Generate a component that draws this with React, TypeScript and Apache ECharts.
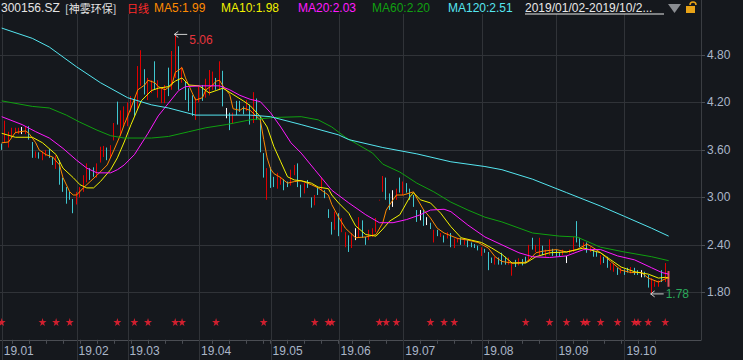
import React, { useEffect, useRef } from "react";
import * as echarts from "echarts";

// ---------- data ----------
const tradingDays: [string, number[]][] = [
  ["2019-01", [2, 3, 4, 7, 8, 9, 10, 11, 14, 15, 16, 17, 18, 21, 22, 23, 24, 25, 28, 29, 30, 31]],
  ["2019-02", [1, 11, 12, 13, 14, 15, 18, 19, 20, 21, 22, 25, 26, 27, 28]],
  ["2019-03", [1, 4, 5, 6, 7, 8, 11, 12, 13, 14, 15, 18, 19, 20, 21, 22, 25, 26, 27, 28, 29]],
  ["2019-04", [1, 2, 3, 4, 8, 9, 10, 11, 12, 15, 16, 17, 18, 19, 22, 23, 24, 25, 26, 29, 30]],
  ["2019-05", [6, 7, 8, 9, 10, 13, 14, 15, 16, 17, 20, 21, 22, 23, 24, 27, 28, 29, 30, 31]],
  ["2019-06", [3, 4, 5, 6, 10, 11, 12, 13, 14, 17, 18, 19, 20, 21, 24, 25, 26, 27, 28]],
  ["2019-07", [1, 2, 3, 4, 5, 8, 9, 10, 11, 12, 15, 16, 17, 18, 19, 22, 23, 24, 25, 26, 29, 30, 31]],
  ["2019-08", [1, 2, 5, 6, 7, 8, 9, 12, 13, 14, 15, 16, 19, 20, 21, 22, 23, 26, 27, 28, 29, 30]],
  ["2019-09", [2, 3, 4, 5, 6, 9, 10, 11, 12, 16, 17, 18, 19, 20, 23, 24, 25, 26, 27, 30]],
  ["2019-10", [8, 9, 10, 11, 14, 15, 16, 17, 18, 21, 22, 23, 24, 25]],
];
const emptySlots = 9;

// [open, close, low, high]
const janK = [
  [3.67, 3.62, 3.6, 3.68], [3.72, 3.9, 3.69, 3.97], [3.66, 3.8, 3.63, 3.83], [3.77, 3.85, 3.75, 3.88],
  [3.82, 3.86, 3.81, 3.88], [3.84, 3.86, 3.8, 3.88], [3.85, 3.85, 3.8, 3.89], [3.82, 3.88, 3.8, 3.89],
  [3.88, 3.76, 3.73, 3.9], [3.7, 3.55, 3.5, 3.7], [3.52, 3.57, 3.5, 3.58], [3.56, 3.52, 3.49, 3.57],
  [3.5, 3.56, 3.47, 3.58], [3.53, 3.57, 3.52, 3.6], [3.6, 3.52, 3.5, 3.61], [3.5, 3.43, 3.41, 3.51],
  [3.4, 3.47, 3.36, 3.53], [3.45, 3.2, 3.16, 3.47], [3.22, 3.1, 3.07, 3.25], [3.12, 2.97, 2.92, 3.13],
  [3.05, 3.0, 2.97, 3.07], [2.97, 2.85, 2.8, 2.98],
];
const febK = [
  [2.93, 3.03, 2.91, 3.07], [3.03, 3.1, 3.0, 3.13], [3.1, 3.24, 3.07, 3.28], [3.22, 3.38, 3.19, 3.43],
  [3.36, 3.25, 3.22, 3.37], [3.33, 3.27, 3.26, 3.38], [3.27, 3.37, 3.25, 3.43], [3.45, 3.6, 3.44, 3.64],
  [3.55, 3.62, 3.51, 3.65], [3.62, 3.52, 3.47, 3.63], [3.52, 3.63, 3.5, 3.66], [3.73, 3.93, 3.72, 3.94],
  [4.15, 3.95, 3.92, 4.21], [3.82, 4.05, 3.78, 4.1], [3.95, 4.05, 3.9, 4.15],
];
const marK = [
  [3.98, 4.12, 3.9, 4.2], [4.1, 4.24, 4.08, 4.28], [4.22, 4.08, 4.03, 4.24], [4.15, 4.6, 4.12, 4.66],
  [4.5, 4.7, 4.41, 4.86], [4.6, 4.45, 4.3, 4.62], [4.35, 4.48, 4.23, 4.51], [4.38, 4.45, 4.32, 4.48],
  [4.62, 4.4, 4.36, 4.72], [4.3, 4.42, 4.26, 4.48], [4.22, 4.32, 4.19, 4.38], [4.25, 4.38, 4.19, 4.42],
  [4.55, 4.32, 4.28, 4.64], [4.4, 4.78, 4.36, 4.85], [4.58, 4.8, 4.51, 5.06], [4.85, 4.5, 4.36, 4.91],
  [4.48, 4.62, 4.45, 4.65], [4.45, 4.28, 4.23, 4.47], [4.3, 4.12, 4.09, 4.38], [4.25, 4.08, 4.03, 4.29],
  [4.02, 4.2, 3.98, 4.26],
];
const aprK = [
  [4.22, 4.35, 4.2, 4.4], [4.35, 4.3, 4.22, 4.42], [4.3, 4.45, 4.26, 4.5], [4.35, 4.55, 4.29, 4.61],
  [4.4, 4.5, 4.36, 4.59], [4.5, 4.4, 4.36, 4.51], [4.4, 4.55, 4.36, 4.72], [4.5, 4.2, 4.15, 4.6],
  [4.06, 4.06, 4.0, 4.13], [4.05, 3.95, 3.85, 4.07], [3.95, 4.05, 3.93, 4.07], [4.15, 4.06, 4.04, 4.22],
  [4.15, 4.1, 4.08, 4.22], [4.12, 4.08, 4.05, 4.15], [4.1, 4.18, 4.09, 4.23], [4.15, 4.05, 3.92, 4.17],
  [4.0, 4.28, 3.94, 4.33], [4.22, 4.0, 3.98, 4.25], [3.98, 3.62, 3.57, 4.02], [3.55, 3.28, 3.25, 3.56],
  [3.1, 3.3, 2.97, 3.37],
];
const mayK = [
  [3.35, 3.18, 3.12, 3.38], [3.25, 3.17, 3.13, 3.26], [3.15, 3.28, 3.11, 3.31], [3.18, 3.25, 3.16, 3.26],
  [3.22, 3.12, 3.09, 3.23], [3.18, 3.14, 3.13, 3.2], [3.16, 3.3, 3.15, 3.35], [3.3, 3.38, 3.28, 3.41],
  [3.4, 3.18, 3.13, 3.43], [3.15, 3.05, 3.0, 3.16], [3.06, 3.15, 3.05, 3.18], [3.2, 3.15, 3.12, 3.22],
  [3.0, 2.9, 2.87, 3.0], [2.93, 3.0, 2.9, 3.03], [3.1, 3.05, 3.03, 3.12], [3.1, 3.2, 3.09, 3.25],
  [3.08, 3.0, 2.99, 3.09], [2.85, 2.76, 2.74, 2.85], [2.69, 2.55, 2.53, 2.69], [2.6, 2.75, 2.59, 2.82],
];
const junK = [
  [2.78, 2.55, 2.51, 2.8], [2.58, 2.7, 2.56, 2.74], [2.4, 2.5, 2.37, 2.56], [2.5, 2.35, 2.31, 2.52],
  [2.38, 2.48, 2.36, 2.55], [2.5, 2.5, 2.46, 2.61], [2.52, 2.62, 2.49, 2.75], [2.65, 2.52, 2.49, 2.71],
  [2.5, 2.43, 2.4, 2.5], [2.47, 2.55, 2.46, 2.59], [2.5, 2.56, 2.5, 2.61], [2.57, 2.7, 2.56, 2.74],
  [2.96, 2.97, 2.96, 2.97], [3.1, 3.26, 3.07, 3.27], [3.25, 3.0, 2.97, 3.25], [3.02, 2.9, 2.84, 3.05],
  [2.98, 2.98, 2.88, 3.09], [2.98, 3.08, 2.97, 3.11], [3.2, 3.08, 3.06, 3.25],
];
const julK = [
  [3.05, 3.15, 3.03, 3.2], [3.17, 3.08, 3.06, 3.18], [3.08, 3.0, 2.97, 3.11], [2.98, 2.9, 2.88, 3.03],
  [2.84, 2.72, 2.69, 2.84], [2.75, 2.75, 2.71, 2.84], [2.78, 2.66, 2.64, 2.84], [2.7, 2.7, 2.65, 2.75],
  [2.68, 2.6, 2.6, 2.68], [2.45, 2.55, 2.43, 2.59], [2.57, 2.52, 2.51, 2.59], [2.5, 2.54, 2.5, 2.55],
  [2.52, 2.46, 2.43, 2.52], [2.48, 2.53, 2.48, 2.56], [2.52, 2.42, 2.37, 2.55], [2.4, 2.47, 2.36, 2.48],
  [2.44, 2.48, 2.43, 2.49], [2.48, 2.42, 2.4, 2.49], [2.41, 2.45, 2.4, 2.46], [2.45, 2.4, 2.37, 2.46],
  [2.42, 2.38, 2.37, 2.43], [2.4, 2.36, 2.36, 2.41], [2.38, 2.34, 2.33, 2.39],
];
const augK = [
  [2.28, 2.35, 2.26, 2.37], [2.33, 2.3, 2.3, 2.35], [2.3, 2.12, 2.08, 2.31], [2.22, 2.17, 2.17, 2.24],
  [2.16, 2.22, 2.15, 2.25], [2.22, 2.18, 2.15, 2.24], [2.28, 2.17, 2.15, 2.3], [2.2, 2.16, 2.15, 2.25],
  [2.16, 2.19, 2.15, 2.24], [2.05, 2.15, 2.01, 2.17], [2.2, 2.14, 2.12, 2.21], [2.15, 2.2, 2.14, 2.23],
  [2.2, 2.16, 2.14, 2.22], [2.22, 2.18, 2.17, 2.25], [2.2, 2.33, 2.19, 2.4], [2.42, 2.35, 2.34, 2.49],
  [2.33, 2.37, 2.31, 2.4], [2.3, 2.4, 2.27, 2.49], [2.38, 2.3, 2.27, 2.39], [2.28, 2.32, 2.25, 2.34],
  [2.3, 2.36, 2.27, 2.47], [2.35, 2.3, 2.26, 2.35],
];
const sepK = [
  [2.33, 2.28, 2.25, 2.34], [2.31, 2.27, 2.25, 2.31], [2.28, 2.32, 2.27, 2.34], [2.22, 2.22, 2.17, 2.26],
  [2.3, 2.33, 2.29, 2.34], [2.32, 2.42, 2.31, 2.5], [2.48, 2.44, 2.43, 2.7], [2.46, 2.4, 2.37, 2.49],
  [2.37, 2.41, 2.34, 2.43], [2.42, 2.34, 2.3, 2.43], [2.33, 2.36, 2.31, 2.37], [2.34, 2.28, 2.25, 2.35],
  [2.3, 2.26, 2.25, 2.31], [2.18, 2.25, 2.15, 2.27], [2.24, 2.18, 2.17, 2.25], [2.22, 2.14, 2.11, 2.25],
  [2.1, 2.15, 2.08, 2.17], [2.09, 2.14, 2.06, 2.17], [2.11, 2.05, 2.02, 2.11], [2.05, 2.09, 2.04, 2.11],
];
const octK = [
  [2.09, 2.04, 2.02, 2.09], [2.08, 2.06, 2.05, 2.11], [2.05, 2.09, 2.04, 2.12], [2.09, 2.04, 2.02, 2.11],
  [2.06, 2.03, 2.02, 2.08], [2.04, 2.04, 1.99, 2.08], [2.04, 2.0, 1.99, 2.06], [2.01, 1.9, 1.86, 2.02],
  [1.86, 1.92, 1.78, 1.98], [1.88, 1.92, 1.87, 1.94], [1.89, 1.93, 1.87, 1.95], [2.05, 1.95, 1.93, 2.08],
  [1.95, 2.05, 1.93, 2.17], [1.88, 2.05, 1.87, 2.07],
];

// moving averages: [day index, value]
const ma5 = [
  [0, 3.69], [2, 3.7], [4, 3.82], [7, 3.84], [8, 3.81], [10, 3.69], [11, 3.6], [13, 3.54], [15, 3.51], [17, 3.41],
  [18, 3.25], [20, 3.07], [21, 3.03], [22, 3.03], [24, 3.12], [26, 3.2], [28, 3.28], [31, 3.41], [33, 3.6], [35, 3.8],
  [36, 3.92], [38, 4.13], [40, 4.36], [42, 4.42], [43, 4.48], [45, 4.45], [46, 4.4], [48, 4.36], [50, 4.42], [51, 4.58],
  [53, 4.64], [54, 4.51], [56, 4.32], [57, 4.23], [59, 4.26], [60, 4.36], [62, 4.42], [63, 4.47], [64, 4.48], [65, 4.41],
  [67, 4.3], [68, 4.12], [70, 4.1], [71, 4.13], [73, 4.1], [76, 3.98], [77, 3.73], [78, 3.5], [79, 3.36], [80, 3.3],
  [82, 3.25], [84, 3.18], [86, 3.2], [88, 3.21], [91, 3.16], [93, 3.12], [96, 3.03], [97, 2.91], [99, 2.75], [101, 2.61],
  [104, 2.49], [107, 2.5], [110, 2.53], [112, 2.68], [113, 2.84], [115, 2.97], [116, 3.03], [118, 3.03], [121, 3.07], [122, 2.99],
  [124, 2.84], [126, 2.74], [128, 2.61], [130, 2.55], [134, 2.48], [137, 2.46], [140, 2.43], [143, 2.36], [145, 2.25], [147, 2.19],
  [150, 2.17], [154, 2.18], [155, 2.21], [157, 2.3], [159, 2.32], [163, 2.34], [166, 2.31], [169, 2.34], [172, 2.41], [174, 2.36],
  [176, 2.3], [179, 2.19], [182, 2.08], [185, 2.05], [188, 2.05], [190, 1.98], [193, 1.93], [195, 1.97], [196, 1.99],
];
const ma10 = [
  [0, 3.81], [4, 3.76], [9, 3.76], [12, 3.69], [16, 3.54], [18, 3.37], [21, 3.25], [23, 3.16], [25, 3.12], [27, 3.12],
  [29, 3.2], [32, 3.35], [34, 3.5], [35, 3.6], [36, 3.7], [38, 3.92], [41, 4.22], [44, 4.35], [46, 4.38], [49, 4.4],
  [51, 4.47], [53, 4.51], [55, 4.42], [58, 4.41], [61, 4.32], [63, 4.35], [65, 4.38], [68, 4.3], [71, 4.22], [73, 4.16],
  [76, 4.02], [78, 3.89], [80, 3.64], [82, 3.45], [84, 3.26], [86, 3.22], [88, 3.21], [91, 3.18], [93, 3.13], [96, 3.11],
  [97, 3.03], [99, 2.93], [102, 2.8], [104, 2.64], [107, 2.53], [110, 2.51], [112, 2.6], [114, 2.7], [117, 2.78], [120, 3.01],
  [121, 3.06], [123, 2.97], [126, 2.93], [129, 2.8], [132, 2.63], [135, 2.49], [138, 2.46], [141, 2.43], [144, 2.36], [147, 2.28],
  [150, 2.17], [154, 2.17], [157, 2.25], [161, 2.3], [166, 2.31], [171, 2.36], [176, 2.3], [179, 2.21], [182, 2.12], [186, 2.06],
  [190, 2.03], [193, 1.98], [195, 1.99], [196, 1.98],
];
const ma20 = [
  [0, 4.02], [6, 3.92], [10, 3.83], [14, 3.75], [18, 3.62], [22, 3.47], [25, 3.37], [28, 3.31], [32, 3.31], [34, 3.35],
  [36, 3.41], [39, 3.54], [43, 3.81], [46, 4.03], [49, 4.19], [52, 4.35], [54, 4.4], [59, 4.41], [64, 4.41], [67, 4.36],
  [70, 4.29], [73, 4.24], [76, 4.21], [79, 4.07], [82, 3.89], [85, 3.69], [88, 3.56], [92, 3.35], [97, 3.09], [102, 2.93],
  [107, 2.78], [111, 2.68], [115, 2.68], [119, 2.72], [123, 2.78], [126, 2.84], [130, 2.85], [132, 2.82], [137, 2.65], [142, 2.5],
  [147, 2.4], [152, 2.3], [156, 2.25], [161, 2.24], [166, 2.26], [171, 2.34], [176, 2.34], [181, 2.26], [186, 2.21], [191, 2.11],
  [194, 2.05], [196, 2.03],
];
const ma60 = [
  [0, 4.22], [9, 4.15], [14, 4.13], [19, 4.04], [23, 3.95], [28, 3.85], [32, 3.78], [36, 3.75], [44, 3.75], [49, 3.77],
  [55, 3.83], [60, 3.88], [66, 3.92], [73, 3.98], [80, 4.01], [88, 4.02], [93, 3.98], [97, 3.89], [101, 3.76], [105, 3.66],
  [109, 3.56], [112, 3.42], [117, 3.32], [122, 3.18], [127, 3.07], [132, 2.94], [137, 2.84], [142, 2.75], [147, 2.69], [156, 2.55],
  [164, 2.51], [169, 2.5], [176, 2.37], [183, 2.31], [191, 2.25], [196, 2.2],
];
const ma120 = [
  [0, 5.14], [9, 5.01], [14, 4.9], [22, 4.65], [29, 4.45], [37, 4.26], [44, 4.17], [49, 4.13], [57, 4.04], [66, 4.04],
  [73, 4.04], [79, 4.02], [88, 3.92], [99, 3.79], [102, 3.73], [112, 3.63], [122, 3.55], [132, 3.45], [142, 3.39], [147, 3.35],
  [156, 3.23], [166, 3.06], [176, 2.89], [183, 2.76], [191, 2.61], [196, 2.51],
];
const signalDays = [0, 12, 16, 20, 34, 39, 43, 51, 53, 63, 77, 92, 96, 97, 111, 113, 116, 126, 130, 133, 154, 161, 166, 171, 172, 176, 181, 186, 187, 190, 195];
const yTicks = { min: 1.2, max: 5.4, step: 0.6 };

// ---------- derived ----------
const dates: string[] = [];
const monthStarts: number[] = [];
const mondays: number[] = [];
tradingDays.forEach(([ym, days]) => {
  monthStarts.push(dates.length);
  days.forEach((d) => {
    const [y, m] = ym.split("-").map(Number);
    if (new Date(y, m - 1, d).getDay() === 1) mondays.push(dates.length);
    dates.push(`${ym}-${String(d).padStart(2, "0")}`);
  });
});
const categories = [...dates, ...Array.from({ length: emptySlots }, (_, i) => " ".repeat(i + 1))];
const candles = [...janK, ...febK, ...marK, ...aprK, ...mayK, ...junK, ...julK, ...augK, ...sepK, ...octK];

const BG = "#15181d";
const GRIDC = "#303338";
const AXC = "#aab6c8";
const FONT = '"Liberation Sans", Arial, "Noto Sans CJK SC", sans-serif';
const CJK = '"Noto Sans CJK SC", sans-serif';
const maDefs = [
  { name: "MA5", data: ma5, color: "#ff8a00" },
  { name: "MA10", data: ma10, color: "#f2f200" },
  { name: "MA20", data: ma20, color: "#ff1aff" },
  { name: "MA60", data: ma60, color: "#10a010" },
  { name: "MA120", data: ma120, color: "#55e6f0" },
];

export default function App() {
  const ref = useRef<HTMLDivElement>(null);
  useEffect(() => {
    const chart = echarts.init(ref.current!, null, { renderer: "svg" });
    const monthSet = new Set(monthStarts);
    const mondaySet = new Set(mondays);
    const lastIdx = candles.length - 1;
    const kData = candles.map((c, i) =>
      i === lastIdx
        ? { value: c, itemStyle: { color: "#e0505c", borderColor: "#e0505c", borderWidth: 2 } }
        : c
    );
    chart.setOption({
      animation: false,
      backgroundColor: BG,
      textStyle: { fontFamily: FONT },
      grid: [
        { left: 0, right: 42, top: 7.5, bottom: 20.2, outerBoundsMode: "none" },
        { left: 0, right: 42, top: 315, height: 14, outerBoundsMode: "none" },
      ],
      xAxis: [
        {
          type: "category",
          data: categories,
          gridIndex: 0,
          boundaryGap: true,
          axisLine: { lineStyle: { color: "#4a4d53" } },
          axisTick: {
            show: true,
            alignWithLabel: true,
            interval: (i: number) => mondaySet.has(i),
            length: 4,
            lineStyle: { color: "#4a4d53" },
          },
          axisLabel: {
            interval: (i: number) => monthSet.has(i),
            formatter: (v: string) => (v.trim() ? `${v.slice(2, 4)}.${v.slice(5, 7)}` : ""),
            align: "left",
            color: AXC,
            fontSize: 12,
            margin: 5,
            padding: [0, 0, 0, 2],
          },
          splitLine: { show: false },
        },
        {
          type: "category",
          data: categories,
          gridIndex: 1,
          boundaryGap: true,
          show: false,
        },
      ],
      yAxis: [
        {
          type: "value",
          position: "right",
          gridIndex: 0,
          min: yTicks.min,
          max: yTicks.max,
          interval: yTicks.step,
          axisLine: { show: true, lineStyle: { color: "#3a3d42" } },
          axisTick: { show: true, length: 4, lineStyle: { color: "#4a4d53" } },
          axisLabel: {
            color: AXC,
            fontSize: 12,
            margin: 6,
            showMinLabel: false,
            showMaxLabel: false,
            formatter: (v: number) => v.toFixed(2),
          },
          splitLine: { show: true, lineStyle: { color: GRIDC, width: 1 } },
        },
        { type: "value", gridIndex: 1, min: 0, max: 2, show: false },
      ],
      series: [
        {
          type: "candlestick",
          xAxisIndex: 0,
          yAxisIndex: 0,
          data: kData,
          barWidth: 1,
          z: 2,
          itemStyle: {
            color: "#e00000",
            color0: "#3fc6cf",
            borderColor: "#e00000",
            borderColor0: "#3fc6cf",
            borderColorDoji: "#ffffff",
            borderWidth: 1,
          },
        },
        ...maDefs.map((m) => ({
          type: "line",
          name: m.name,
          xAxisIndex: 0,
          yAxisIndex: 0,
          data: m.data,
          symbol: "none",
          showSymbol: false,
          z: 3,
          lineStyle: { color: m.color, width: 1 },
        })),
        {
          type: "scatter",
          xAxisIndex: 1,
          yAxisIndex: 1,
          data: signalDays.map((i) => [i, 1]),
          symbol: "path://M50,0 L61,35 L98,35 L68,57 L79,91 L50,70 L21,91 L32,57 L2,35 L39,35 Z",
          symbolSize: 8,
          itemStyle: { color: "#ff2233" },
        },
      ],
    });

    // overlay elements positioned through the chart's own scales
    const px = (i: number, v: number) => chart.convertToPixel({ gridIndex: 0 }, [i, v]) as number[];
    const g: any[] = [];
    g.push({ type: "rect", shape: { x: 0, y: 0, width: 743, height: 14 }, style: { fill: BG }, z: 100 });
    g.push({ type: "line", shape: { x1: 701.5, y1: 0, x2: 701.5, y2: 14 }, style: { stroke: "#3a3d42", lineWidth: 1 }, z: 101 });
    monthStarts.forEach((i) => {
      const x = Math.round(px(i, 3)[0]) + 0.5;
      g.push({ type: "line", shape: { x1: x, y1: 14, x2: x, y2: 360 }, style: { stroke: GRIDC, lineWidth: 1 }, z: 1, silent: true });
    });
    let hi = 0, lo = 0;
    candles.forEach((c, i) => {
      if (c[3] > candles[hi][3]) hi = i;
      if (c[2] < candles[lo][2]) lo = i;
    });
    const addArrow = (i: number, v: number, color: string, dy: number) => {
      const [x0, y0] = px(i, v);
      const tx = x0 - 1;
      g.push({ type: "polyline", shape: { points: [[tx + 4, y0 - 3], [tx, y0], [tx + 4, y0 + 3]] }, style: { stroke: "#cfcfcf", lineWidth: 1, fill: null }, z: 20 });
      g.push({ type: "line", shape: { x1: tx, y1: y0, x2: tx + 13, y2: y0 }, style: { stroke: "#cfcfcf", lineWidth: 1 }, z: 20 });
      g.push({ type: "text", x: tx + 15, y: y0 + dy, style: { text: v.toFixed(2), fill: color, font: `12px ${FONT}`, verticalAlign: "middle" }, z: 20 });
    };
    addArrow(hi, candles[hi][3], "#e8343c", 6);
    addArrow(lo, candles[lo][2], "#2aa85a", 0);
    const lastVal = (d: number[][]) => d[d.length - 1][1].toFixed(2);
    const header = [
      { text: "300156.SZ", x: 1, fill: "#e4e4e4", font: `12px ${FONT}` },
      { text: "[神雾环保]", x: 65, fill: "#e4e4e4", font: `11px ${CJK}` },
      { text: "日线", x: 127, fill: "#ff2a2a", font: `11px ${CJK}` },
      ...maDefs.map((m, k) => ({
        text: `${m.name}:${lastVal(m.data)}`,
        x: [154, 221, 298, 372, 448][k],
        fill: m.color,
        font: `12px ${FONT}`,
      })),
      { text: "2019/01/02-2019/10/2...", x: 525, fill: "#e8e8e8", font: `12px ${FONT}` },
    ];
    header.forEach((h) => {
      g.push({ type: "text", x: h.x, y: 8, style: { text: h.text, fill: h.fill, font: h.font, verticalAlign: "middle" }, z: 102 });
    });
    g.push({ type: "line", shape: { x1: 525, y1: 14, x2: 664, y2: 14 }, style: { stroke: "#e8e8e8", lineWidth: 1 }, z: 102 });
    g.push({ type: "polygon", shape: { points: [[668, 4], [681, 4], [674.5, 13]] }, style: { fill: "#8a8d92" }, z: 102 });
    g.push({ type: "rect", shape: { x: 686, y: 6, width: 9, height: 7 }, style: { fill: "#e8a317" }, z: 102 });
    g.push({ type: "arc", shape: { cx: 693, cy: 5, r: 3, startAngle: Math.PI, endAngle: 2 * Math.PI }, style: { stroke: "#e8a317", lineWidth: 1.5, fill: null }, z: 102 });
    chart.setOption({ graphic: g });
    return () => chart.dispose();
  }, []);
  return <div ref={ref} style={{ position: "fixed", left: 0, top: 0, width: 743, height: 360 }} />;
}
